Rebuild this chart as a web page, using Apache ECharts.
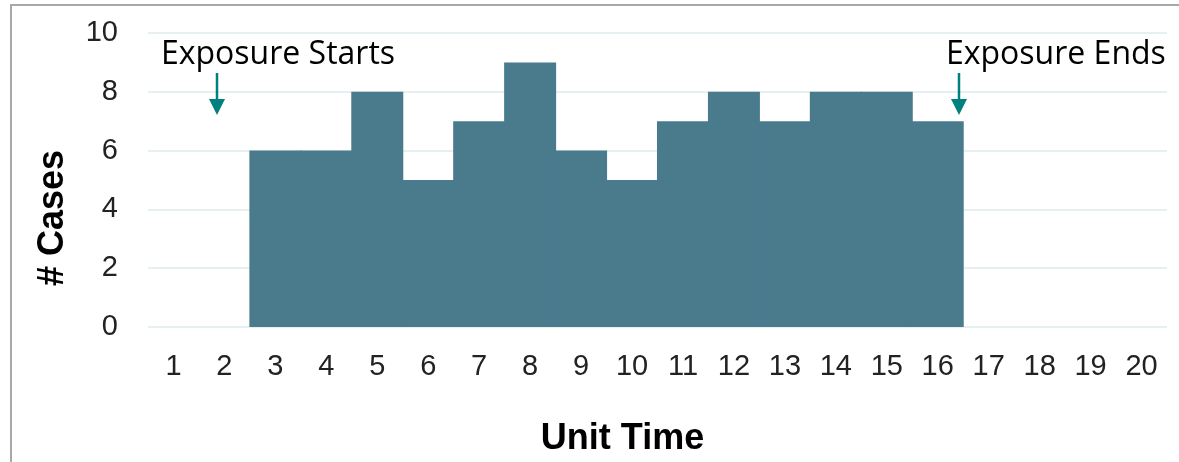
<!DOCTYPE html>
<html>
<head>
<meta charset="utf-8">
<script src="https://cdn.jsdelivr.net/npm/echarts@6/dist/echarts.min.js"></script>
<style>
  html, body { margin: 0; padding: 0; background: #ffffff; }
  #chart { width: 1179px; height: 462px; }
</style>
</head>
<body>
<div id="chart"></div>
<script>
// Epidemic curve: cases per unit of time
const units = ['1','2','3','4','5','6','7','8','9','10','11','12','13','14','15','16','17','18','19','20'];
const cases = [0, 0, 6, 6, 8, 5, 7, 9, 6, 5, 7, 8, 7, 8, 8, 7, 0, 0, 0, 0];
const yTicks = [0, 2, 4, 6, 8, 10];

const barColor = '#4a7b8d';
const arrowColor = '#00807e';
const gridColor = '#e6eff1';

const chart = echarts.init(document.getElementById('chart'), null, { renderer: 'canvas' });

// Down arrow with a label above it, used for the exposure window markers
function marker(x, text, textX) {
  return [
    {
      type: 'text', left: textX, top: 39, z: 10,
      style: { text: text, font: '32px "Open Sans"', fill: '#000000' }
    },
    {
      type: 'line', z: 10,
      shape: { x1: x, y1: 73, x2: x, y2: 101 },
      style: { stroke: arrowColor, lineWidth: 2.5 }
    },
    {
      type: 'polygon', z: 10,
      shape: { points: [[x - 8, 99], [x + 8, 99], [x, 115]] },
      style: { fill: arrowColor }
    }
  ];
}

chart.setOption({
  animation: false,
  backgroundColor: '#ffffff',
  grid: { left: 148, right: 12, top: 33, bottom: 134 },
  xAxis: {
    type: 'category',
    data: units,
    name: 'Unit Time',
    nameLocation: 'middle',
    nameGap: 94,
    nameTextStyle: {
      fontFamily: 'Liberation Sans', fontWeight: 'bold', fontSize: 36, color: '#000000',
      padding: [0, 70, 0, 0]
    },
    axisLine: { show: false },
    axisTick: { show: false },
    axisLabel: { fontFamily: 'Liberation Sans', fontSize: 29, color: '#222222', margin: 25 }
  },
  yAxis: {
    type: 'value',
    min: yTicks[0],
    max: yTicks[yTicks.length - 1],
    interval: yTicks[1] - yTicks[0],
    name: '# Cases',
    nameLocation: 'middle',
    nameGap: 77,
    nameTextStyle: {
      fontFamily: 'Liberation Sans', fontWeight: 'bold', fontSize: 36, color: '#000000',
      padding: [0, 76, 0, 0]
    },
    axisLine: { show: false },
    axisTick: { show: false },
    axisLabel: {
      fontFamily: 'Liberation Sans', fontSize: 29, color: '#222222', margin: 30,
      padding: [5, 0, 0, 0]
    },
    splitLine: { show: true, lineStyle: { color: gridColor, width: 2 } }
  },
  series: [{
    type: 'bar',
    data: cases,
    // slightly wider than a category so neighbouring bars overlap without seams
    barWidth: 52,
    barGap: '-100%',
    itemStyle: { color: barColor, borderWidth: 0 }
  }],
  graphic: [
    // frame around the figure
    {
      type: 'polyline', z: 20,
      shape: { points: [[11, 470], [11, 5], [1185, 5]] },
      style: { stroke: '#a8a8a8', lineWidth: 2, fill: null }
    }
  ].concat(marker(217, 'Exposure Starts', 161), marker(959, 'Exposure Ends', 946))
});
</script>
</body>
</html>
